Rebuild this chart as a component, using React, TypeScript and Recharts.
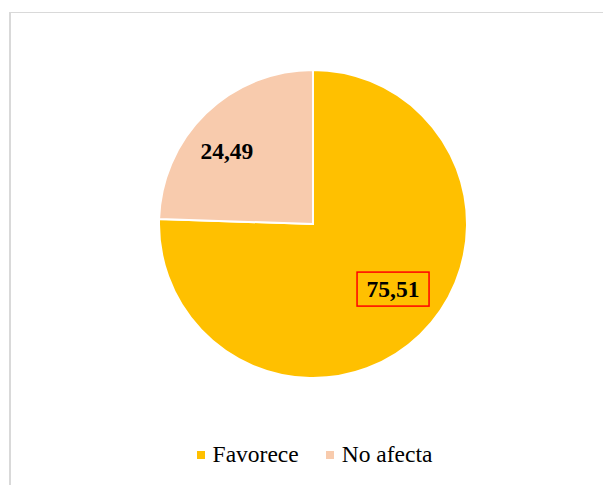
import { PieChart, Pie, Cell, Legend } from 'recharts';

const categories = ['Favorece', 'No afecta'];
const values = [75.51, 24.49];
const labels = ['75,51', '24,49'];
const colors = ['#FFC000', '#F8CBAD'];

const data = categories.map((name, i) => ({ name, value: values[i], label: labels[i] }));

const RADIAN = Math.PI / 180;
const serif = "'Liberation Serif', 'Times New Roman', serif";

function renderLabel(props: any) {
  const { cx, cy, midAngle, outerRadius, index } = props;
  const r = outerRadius * (index === 0 ? 0.67 : 0.733);
  const shift = index === 0 ? 6.8 : 5.6;
  const a = (midAngle + shift) * RADIAN;
  const x = cx + r * Math.cos(a);
  const y = cy - r * Math.sin(a);
  const text = data[index].label;
  return (
    <g>
      {index === 0 && (
        <rect x={x - 36} y={y - 17} width={72} height={34} fill="none" stroke="#FF0000" strokeWidth={1.5} />
      )}
      <text
        x={x}
        y={y}
        textAnchor="middle"
        dominantBaseline="central"
        fontFamily={serif}
        fontWeight="bold"
        fontSize={23.5}
        fill="#000"
      >
        {text}
      </text>
    </g>
  );
}

function renderLegend() {
  return (
    <div style={{ display: 'flex', justifyContent: 'center', gap: 27, fontFamily: serif, fontSize: 23.5, color: '#000', marginLeft: 26 }}>
      {categories.map((c, i) => (
        <div key={c} style={{ display: 'flex', alignItems: 'center' }}>
          <span style={{ display: 'inline-block', width: 8, height: 8, background: colors[i], marginRight: 8 }} />
          <span>{c}</span>
        </div>
      ))}
    </div>
  );
}

export default function App() {
  return (
    <div style={{ position: 'absolute', left: 0, top: 0, width: 603, height: 485, background: '#fff' }}>
      <div
        style={{
          position: 'absolute',
          left: 9,
          top: 12,
          width: 594,
          height: 473,
          borderTop: '1.5px solid #D9D9D9',
          borderLeft: '2px solid #D9D9D9',
        }}
      />
      <div style={{ position: 'absolute', left: 0, top: 0 }}>
        <PieChart width={603} height={485} margin={{ top: 0, right: 0, bottom: 0, left: 0 }}>
          <Pie
            data={data}
            dataKey="value"
            nameKey="name"
            cx={313}
            cy={224}
            outerRadius={154}
            startAngle={90}
            endAngle={-270}
            stroke="#fff"
            strokeWidth={2}
            label={renderLabel}
            labelLine={false}
            isAnimationActive={false}
          >
            {data.map((d, i) => (
              <Cell key={d.name} fill={colors[i]} />
            ))}
          </Pie>
          <Legend content={renderLegend} verticalAlign="bottom" wrapperStyle={{ bottom: 17 }} />
        </PieChart>
      </div>
    </div>
  );
}
